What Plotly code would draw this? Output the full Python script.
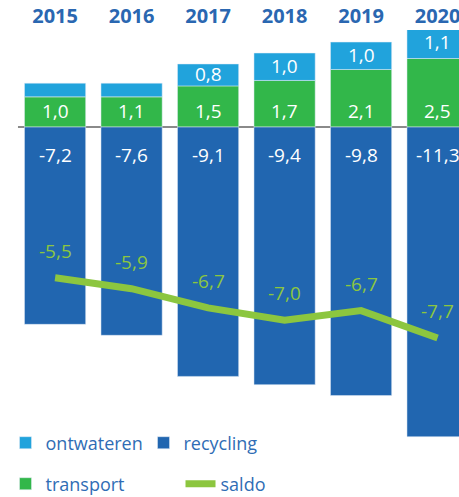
import plotly.graph_objects as go

years = ["2015", "2016", "2017", "2018", "2019", "2020"]
ontwateren = [0.5, 0.5, 0.8, 1.0, 1.0, 1.1]
ontwateren_labels = ["", "", "0,8", "1,0", "1,0", "1,1"]
transport = [1.1, 1.1, 1.5, 1.7, 2.1, 2.5]
transport_labels = ["1,0", "1,1", "1,5", "1,7", "2,1", "2,5"]
recycling = [-7.2, -7.6, -9.1, -9.4, -9.8, -11.3]
recycling_labels = ["-7,2", "-7,6", "-9,1", "-9,4", "-9,8", "-11,3"]
saldo = [-5.5, -5.9, -6.6, -7.05, -6.7, -7.7]
saldo_labels = ["-5,5", "-5,9", "-6,7", "-7,0", "-6,7", "-7,7"]

C_ONT = "#21a3dc"
C_REC = "#2166b0"
C_TRA = "#32b74a"
C_SAL = "#8cc63f"
C_TXT = "#2f6db5"
FONT = "Open Sans"

W, H, TOP = 459, 497, 30
PLOT_BOTTOM = 440
PAPER_H = H - TOP

fig = go.Figure()
fig.add_trace(go.Bar(x=years, y=transport, name="transport", marker_color=C_TRA,
                     legend="legend2", legendrank=3))
fig.add_trace(go.Bar(x=years, y=ontwateren, name="ontwateren", marker_color=C_ONT,
                     legend="legend", legendrank=1))
fig.add_trace(go.Bar(x=years, y=recycling, name="recycling", marker_color=C_REC,
                     legend="legend", legendrank=2))
fig.add_trace(go.Scatter(x=years, y=saldo, name="saldo", mode="lines",
                         line=dict(color=C_SAL, width=7, shape="linear"),
                         legend="legend2", legendrank=4))

annotations = []
white = dict(color="white", size=19, family=FONT)
for i, lab in enumerate(transport_labels):
    annotations.append(dict(x=i, y=0, text=lab, showarrow=False, yshift=16, font=white))
for i, (lab, t, o) in enumerate(zip(ontwateren_labels, transport, ontwateren)):
    if lab:
        annotations.append(dict(x=i, y=t + o / 2, text=lab, showarrow=False, yshift=1, font=white))
for i, lab in enumerate(recycling_labels):
    annotations.append(dict(x=i, y=0, text=lab, showarrow=False, yshift=-28, font=white))
for i, (v, lab) in enumerate(zip(saldo, saldo_labels)):
    annotations.append(dict(x=i, y=v, text=lab, showarrow=False, yshift=27,
                            font=dict(color=C_SAL, size=19, family=FONT)))

fig.update_layout(
    width=W, height=H,
    margin=dict(l=0, r=0, t=TOP, b=0, autoexpand=False),
    barmode="relative", bargap=0.2,
    plot_bgcolor="white", paper_bgcolor="white",
    font=dict(family=FONT, color=C_TXT),
    xaxis=dict(type="category", side="top", range=[-0.72, 5.28], showgrid=False,
               zeroline=False, showline=False, ticks="", ticklabelstandoff=2,
               automargin=False,
               tickfont=dict(family=FONT, size=20, color="#2a67b1", weight="bold")),
    yaxis=dict(range=[-11.42, 3.54], showgrid=False, zeroline=False,
               domain=[(H - PLOT_BOTTOM) / PAPER_H, 1], automargin=False,
               showticklabels=False, showline=False, ticks=""),
    annotations=annotations,
    shapes=[dict(type="line", xref="x", yref="y", x0=-0.485, x1=5.28, y0=0, y1=0,
                 line=dict(color="#8a8a8a", width=2), layer="below")],
    legend=dict(orientation="h", x=0.012, y=(H - 443) / PAPER_H,
                xanchor="left", yanchor="middle",
                entrywidth=93, font=dict(size=18, color=C_TXT, family=FONT),
                bgcolor="rgba(0,0,0,0)", traceorder="normal"),
    legend2=dict(orientation="h", x=0.012, y=(H - 484) / PAPER_H,
                 xanchor="left", yanchor="middle",
                 entrywidth=130, font=dict(size=18, color=C_TXT, family=FONT),
                 bgcolor="rgba(0,0,0,0)", traceorder="normal"),
    showlegend=True,
)

fig.write_html("out.html", config={"displayModeBar": False},
               post_script="document.body.style.margin='0';")
